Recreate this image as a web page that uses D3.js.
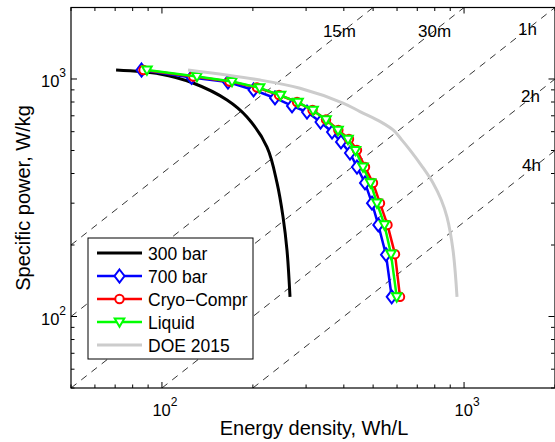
<!DOCTYPE html>
<html>
<head>
<meta charset="utf-8">
<script src="https://d3js.org/d3.v7.min.js"></script>
<style>
body { margin: 0; background: #fff; }
text { font-family: "Liberation Sans", Arial, sans-serif; fill: #000; }
</style>
</head>
<body>
<svg id="chart" width="555" height="442"></svg>
<script>
// Ragone plot: energy density (Wh/L) vs specific power (W/kg), log-log

var energy300 = [70.5, 98.5, 126.7, 164.2, 191.2, 222.7, 240.4, 251.7, 259.4, 265.4];
var power300 = [1091, 1050, 962, 816, 692, 517, 365, 262, 190, 121];

var energy700 = [85.6, 125.3, 165.4, 201.0, 236.7, 269.5, 302.1, 334.9, 365.6, 391.5, 419.2, 442.2, 470.0, 495.8, 520.1, 551.6, 576.1];
var power700 = [1091, 1015, 971, 899, 832, 770, 726, 659, 598, 543, 488, 426, 365, 300, 243, 182, 121];

var energyCryo = [86.9, 127.0, 167.3, 206.4, 244.1, 280.0, 315.1, 349.2, 383.6, 416.0, 442.2, 470.0, 499.5, 526.8, 557.9, 590.8, 613.8];
var powerCryo = [1091, 1024, 976, 921, 856, 800, 740, 675, 610, 559, 502, 426, 365, 300, 243, 183, 121];

var energyLiquid = [89.2, 130.6, 170.6, 210.4, 246.9, 282.1, 316.3, 349.2, 382.6, 412.9, 437.1, 462.9, 490.1, 515.0, 545.3, 573.1, 598.5];
var powerLiquid = [1091, 1024, 976, 918, 853, 797, 737, 673, 608, 557, 500, 426, 365, 300, 243, 183, 121];

var energyDoe = [122.0, 211.2, 286.4, 397.6, 452.4, 530.0, 582.0, 623.0, 662.6, 725.0, 789.4, 840.0, 878.2, 919.4, 947.7];
var powerDoe = [1091, 990, 914, 792, 729, 660, 610, 553, 502, 430, 365, 310, 262, 190, 121];

// constant discharge time lines, P = ratio * E
var timeLabels = ["15m", "30m", "1h", "2h", "4h"];
var timeRatios = [4, 2, 1, 0.5, 0.25];
var labelEnergy = [341, 704, 1509, 1544, 1556];
var labelPower = [1503, 1503, 1532, 800, 410];

var legendNames = ["300 bar", "700 bar", "Cryo\u2212Compr", "Liquid", "DOE 2015"];

var svg = d3.select("#chart");
var x = d3.scaleLog().domain([50, 2000]).range([71, 555]);
var y = d3.scaleLog().domain([50, 2000]).range([388, 7.5]);

svg.append("defs").append("clipPath").attr("id", "plotClip")
    .append("rect")
    .attr("x", 71).attr("y", 7.5)
    .attr("width", 484).attr("height", 380.5);

var plot = svg.append("g").attr("clip-path", "url(#plotClip)");

// dashed time lines
timeRatios.forEach(function (r) {
    var e0 = Math.max(50, 50 / r);
    var e1 = Math.min(2000, 2000 / r);
    plot.append("line")
        .attr("x1", x(e0)).attr("y1", y(e0 * r))
        .attr("x2", x(e1)).attr("y2", y(e1 * r))
        .attr("stroke", "#000")
        .attr("stroke-width", 0.8)
        .attr("stroke-dasharray", "7,6");
});

timeLabels.forEach(function (t, i) {
    svg.append("text")
        .attr("x", x(labelEnergy[i]))
        .attr("y", y(labelPower[i]))
        .attr("font-size", "17px")
        .text(t);
});

var smooth = d3.line().x(function (d) { return x(d[0]); }).y(function (d) { return y(d[1]); })
    .curve(d3.curveCatmullRom.alpha(0.5));
var straight = d3.line().x(function (d) { return x(d[0]); }).y(function (d) { return y(d[1]); });

function pairs(es, ps) {
    return es.map(function (e, i) { return [e, ps[i]]; });
}

var markerPaths = {
    diamond: "M0,-6.5L5,0L0,6.5L-5,0Z",
    circle: d3.symbol().type(d3.symbolCircle).size(56)(),
    triangle: "M-4.8,-3.6L4.8,-3.6L0,4.8Z"
};

var series = [
    { data: pairs(energy300, power300), color: "#000", width: 3, marker: null, smooth: true },
    { data: pairs(energy700, power700), color: "#0000ff", width: 2.5, marker: "diamond" },
    { data: pairs(energyCryo, powerCryo), color: "#ff0000", width: 2.5, marker: "circle" },
    { data: pairs(energyLiquid, powerLiquid), color: "#00ff00", width: 2.5, marker: "triangle" },
    { data: pairs(energyDoe, powerDoe), color: "#cccccc", width: 3, marker: null, smooth: true }
];

series.forEach(function (s) {
    plot.append("path")
        .attr("d", (s.smooth ? smooth : straight)(s.data))
        .attr("fill", "none")
        .attr("stroke", s.color)
        .attr("stroke-width", s.width)
        .attr("stroke-linejoin", "round");
    if (s.marker) {
        plot.selectAll(null).data(s.data).enter().append("path")
            .attr("d", markerPaths[s.marker])
            .attr("transform", function (d) { return "translate(" + x(d[0]) + "," + y(d[1]) + ")"; })
            .attr("fill", "#fff")
            .attr("stroke", s.color)
            .attr("stroke-width", 2);
    }
});

// axes box and ticks (inward, on all sides)
var ticks = x.ticks();
function isMajor(v) { return Math.abs(Math.log10(v) - Math.round(Math.log10(v))) < 1e-9; }

var axes = svg.append("g").attr("stroke", "#000").attr("stroke-width", 1);
ticks.forEach(function (v) {
    var len = isMajor(v) ? 6 : 3.5;
    var px = x(v), py = y(v);
    axes.append("line").attr("x1", px).attr("x2", px).attr("y1", 388).attr("y2", 388 - len);
    axes.append("line").attr("x1", px).attr("x2", px).attr("y1", 7.5).attr("y2", 7.5 + len);
    axes.append("line").attr("y1", py).attr("y2", py).attr("x1", 71).attr("x2", 71 + len);
    axes.append("line").attr("y1", py).attr("y2", py).attr("x1", 554.5).attr("x2", 554.5 - len);
});
svg.append("rect")
    .attr("x", 71).attr("y", 7.5)
    .attr("width", 484).attr("height", 380.5)
    .attr("fill", "none").attr("stroke", "#000").attr("stroke-width", 1.2);

ticks.filter(isMajor).forEach(function (v) {
    var p = Math.round(Math.log10(v));
    var tx = svg.append("text").attr("x", x(v) + 3).attr("y", 416)
        .attr("text-anchor", "middle").attr("font-size", "16.5px");
    tx.append("tspan").text("10");
    tx.append("tspan").attr("dy", -10).attr("font-size", "12px").text(p);

    var ty = svg.append("text").attr("x", 66).attr("y", y(v) + 8.5)
        .attr("text-anchor", "end").attr("font-size", "16.5px");
    ty.append("tspan").text("10");
    ty.append("tspan").attr("dy", -10).attr("font-size", "12px").text(p);
});

svg.append("text")
    .attr("x", 314).attr("y", 435)
    .attr("text-anchor", "middle").attr("font-size", "20px")
    .text("Energy density, Wh/L");
svg.append("text")
    .attr("transform", "translate(30,198) rotate(-90)")
    .attr("text-anchor", "middle").attr("font-size", "20px")
    .text("Specific power, W/kg");

// legend
var legend = svg.append("g");
legend.append("rect")
    .attr("x", 88).attr("y", 238).attr("width", 165).attr("height", 121)
    .attr("fill", "#fff").attr("stroke", "#000").attr("stroke-width", 1);
series.forEach(function (s, i) {
    var ly = 253 + i * 23;
    legend.append("line")
        .attr("x1", 97).attr("x2", 142).attr("y1", ly).attr("y2", ly)
        .attr("stroke", s.color).attr("stroke-width", s.width);
    if (s.marker) {
        legend.append("path")
            .attr("d", markerPaths[s.marker])
            .attr("transform", "translate(119.5," + ly + ")")
            .attr("fill", "#fff").attr("stroke", s.color).attr("stroke-width", 2);
    }
    legend.append("text")
        .attr("x", 148).attr("y", ly + 6.5)
        .attr("font-size", "17.5px")
        .text(legendNames[i]);
});
</script>
</body>
</html>
